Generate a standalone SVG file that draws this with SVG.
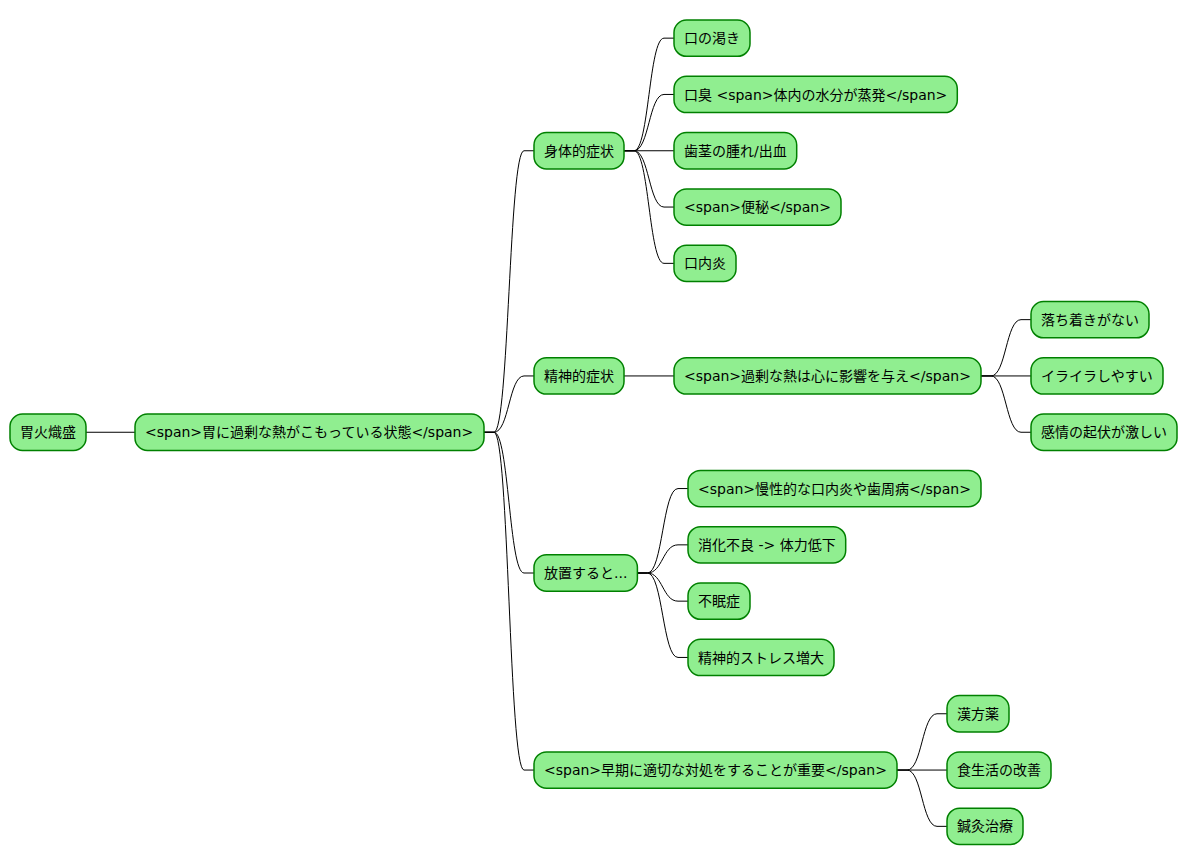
<svg xmlns="http://www.w3.org/2000/svg" width="1188" height="865" viewBox="0 0 1188 865">
<style>
.n rect{fill:#90EE90;stroke:#008000;stroke-width:1.5}
.n text{font-family:"DejaVu Sans","Noto Sans CJK JP",sans-serif;font-size:14px;fill:#000}
#connectors path{fill:none;stroke:#000;stroke-width:1}
</style>
<rect width="1188" height="865" fill="#fff"/>
<g id="connectors">
<path d="M86,432.25 L135,432.25"/>
<path d="M484,432.25 L494,432.25 C509,432.25 509,150.75 524,150.75 L534,150.75"/>
<path d="M484,432.25 L494,432.25 C509,432.25 509,375.95 524,375.95 L534,375.95"/>
<path d="M484,432.25 L494,432.25 C509,432.25 509,573 524,573 L534,573"/>
<path d="M484,432.25 L494,432.25 C509,432.25 509,770.05 524,770.05 L534,770.05"/>
<path d="M624,150.75 L634,150.75 C649,150.75 649,38.15 664,38.15 L674,38.15"/>
<path d="M624,150.75 L634,150.75 C649,150.75 649,94.45 664,94.45 L674,94.45"/>
<path d="M624,150.75 L674,150.75"/>
<path d="M624,150.75 L634,150.75 C649,150.75 649,207.05 664,207.05 L674,207.05"/>
<path d="M624,150.75 L634,150.75 C649,150.75 649,263.35 664,263.35 L674,263.35"/>
<path d="M624,375.95 L674,375.95"/>
<path d="M981,375.95 L991,375.95 C1006,375.95 1006,319.65 1021,319.65 L1031,319.65"/>
<path d="M981,375.95 L1031,375.95"/>
<path d="M981,375.95 L991,375.95 C1006,375.95 1006,432.25 1021,432.25 L1031,432.25"/>
<path d="M637.4,573 L647.4,573 C662.7,573 662.7,488.55 678,488.55 L688,488.55"/>
<path d="M637.4,573 L647.4,573 C662.7,573 662.7,544.85 678,544.85 L688,544.85"/>
<path d="M637.4,573 L647.4,573 C662.7,573 662.7,601.15 678,601.15 L688,601.15"/>
<path d="M637.4,573 L647.4,573 C662.7,573 662.7,657.45 678,657.45 L688,657.45"/>
<path d="M897,770.05 L907,770.05 C922,770.05 922,713.75 937,713.75 L947,713.75"/>
<path d="M897,770.05 L947,770.05"/>
<path d="M897,770.05 L907,770.05 C922,770.05 922,826.35 937,826.35 L947,826.35"/>
</g>
<g id="root" class="n"><rect x="10" y="414.1" width="76" height="36.3" rx="12.5"/><text x="20" y="437.3">胃火熾盛</text></g>
<g id="state" class="n"><rect x="135" y="414.1" width="349" height="36.3" rx="12.5"/><text x="145" y="437.3">&lt;span&gt;胃に過剰な熱がこもっている状態&lt;/span&gt;</text></g>
<g id="physical" class="n"><rect x="534" y="132.6" width="90" height="36.3" rx="12.5"/><text x="544" y="155.8">身体的症状</text></g>
<g id="mental" class="n"><rect x="534" y="357.8" width="90" height="36.3" rx="12.5"/><text x="544" y="381">精神的症状</text></g>
<g id="neglect" class="n"><rect x="534" y="554.85" width="103.4" height="36.3" rx="12.5"/><text x="544" y="578">放置すると...</text></g>
<g id="early" class="n"><rect x="534" y="751.9" width="363" height="36.3" rx="12.5"/><text x="544" y="775.1">&lt;span&gt;早期に適切な対処をすることが重要&lt;/span&gt;</text></g>
<g id="thirst" class="n"><rect x="674" y="20" width="76" height="36.3" rx="12.5"/><text x="684" y="43.2">口の渇き</text></g>
<g id="breath" class="n"><rect x="674" y="76.3" width="283.3" height="36.3" rx="12.5"/><text x="684" y="99.5">口臭 &lt;span&gt;体内の水分が蒸発&lt;/span&gt;</text></g>
<g id="gums" class="n"><rect x="674" y="132.6" width="122.7" height="36.3" rx="12.5"/><text x="684" y="155.8">歯茎の腫れ/出血</text></g>
<g id="constipation" class="n"><rect x="674" y="188.9" width="167" height="36.3" rx="12.5"/><text x="684" y="212.1">&lt;span&gt;便秘&lt;/span&gt;</text></g>
<g id="stomatitis" class="n"><rect x="674" y="245.2" width="62" height="36.3" rx="12.5"/><text x="684" y="268.4">口内炎</text></g>
<g id="heart" class="n"><rect x="674" y="357.8" width="307" height="36.3" rx="12.5"/><text x="684" y="381">&lt;span&gt;過剰な熱は心に影響を与え&lt;/span&gt;</text></g>
<g id="restless" class="n"><rect x="1031" y="301.5" width="118" height="36.3" rx="12.5"/><text x="1041" y="324.7">落ち着きがない</text></g>
<g id="irritable" class="n"><rect x="1031" y="357.8" width="132" height="36.3" rx="12.5"/><text x="1041" y="381">イライラしやすい</text></g>
<g id="emotional" class="n"><rect x="1031" y="414.1" width="146" height="36.3" rx="12.5"/><text x="1041" y="437.3">感情の起伏が激しい</text></g>
<g id="chronic" class="n"><rect x="688" y="470.4" width="293" height="36.3" rx="12.5"/><text x="698" y="493.6">&lt;span&gt;慢性的な口内炎や歯周病&lt;/span&gt;</text></g>
<g id="digestion" class="n"><rect x="688" y="526.7" width="157.7" height="36.3" rx="12.5"/><text x="698" y="549.9">消化不良 -&gt; 体力低下</text></g>
<g id="insomnia" class="n"><rect x="688" y="583" width="62" height="36.3" rx="12.5"/><text x="698" y="606.2">不眠症</text></g>
<g id="stress" class="n"><rect x="688" y="639.3" width="146" height="36.3" rx="12.5"/><text x="698" y="662.5">精神的ストレス増大</text></g>
<g id="kampo" class="n"><rect x="947" y="695.6" width="62" height="36.3" rx="12.5"/><text x="957" y="718.8">漢方薬</text></g>
<g id="diet" class="n"><rect x="947" y="751.9" width="104" height="36.3" rx="12.5"/><text x="957" y="775.1">食生活の改善</text></g>
<g id="acupuncture" class="n"><rect x="947" y="808.2" width="76" height="36.3" rx="12.5"/><text x="957" y="831.4">鍼灸治療</text></g>
</svg>
